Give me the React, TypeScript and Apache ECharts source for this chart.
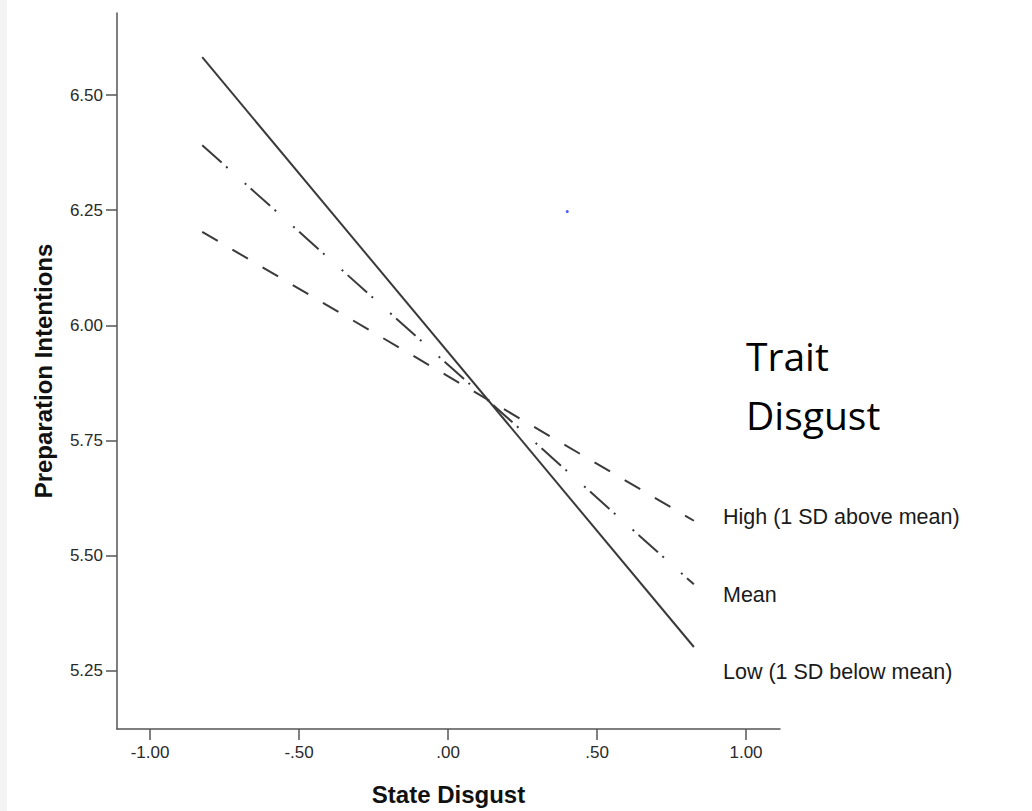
import React, { useEffect, useRef } from "react";
import * as echarts from "echarts";

// ---- data ----
const xEnds = [-0.825, 0.825];
const lowValues = [6.582, 5.302];
const meanValues = [6.391, 5.438];
const highValues = [6.203, 5.576];
const xTicks = [-1, -0.5, 0, 0.5, 1];
const yTicks = [5.25, 5.5, 5.75, 6.0, 6.25, 6.5];
const strayPoint = [[0.4, 6.247]];
const legendLabels = ["High (1 SD above mean)", "Mean", "Low (1 SD below mean)"];
const legendTitle = ["Trait", "Disgust"];
const xName = "State Disgust";
const yName = "Preparation Intentions";

const fmt = (v: number) => v.toFixed(2).replace(/^(-?)0\./, "$1.");

export default function App() {
  const ref = useRef<HTMLDivElement>(null);
  useEffect(() => {
    if (!ref.current) return;
    const chart = echarts.init(ref.current, null, { renderer: "svg" });
    const axisColor = "#555555";
    const lineColor = "#3a3a3a";
    const pairs = (ys: number[]) => xEnds.map((x, i) => [x, ys[i]]);
    chart.setOption({
      animation: false,
      backgroundColor: "#ffffff",
      grid: { left: 117, top: 13, width: 663, height: 720, containLabel: false },
      xAxis: {
        type: "value",
        min: -1.111,
        max: 1.114,
        name: xName,
        nameLocation: "middle",
        nameGap: 53,
        nameTextStyle: { fontFamily: "Liberation Sans", fontWeight: "bold", fontSize: 24, color: "#111" },
        axisLine: { show: true, onZero: false, lineStyle: { color: axisColor, width: 1.5 } },
        axisTick: { show: true, inside: false, length: 11, customValues: xTicks, lineStyle: { color: axisColor, width: 1.5 } },
        axisLabel: { customValues: xTicks, formatter: fmt, margin: 15, fontFamily: "Liberation Sans", fontSize: 17, color: "#2a2a2a" },
        splitLine: { show: false },
      },
      yAxis: {
        type: "value",
        min: 5.124,
        max: 6.678,
        name: yName,
        nameLocation: "middle",
        nameGap: 62,
        nameRotate: 90,
        nameTextStyle: { fontFamily: "Liberation Sans", fontWeight: "bold", fontSize: 24, color: "#111" },
        axisLine: { show: true, onZero: false, lineStyle: { color: axisColor, width: 1.5 } },
        axisTick: { show: true, inside: false, length: 11, customValues: yTicks, lineStyle: { color: axisColor, width: 1.5 } },
        axisLabel: { customValues: yTicks, formatter: fmt, margin: 14, fontFamily: "Liberation Sans", fontSize: 17, color: "#2a2a2a" },
        splitLine: { show: false },
      },
      series: [
        {
          name: legendLabels[2],
          type: "line",
          data: pairs(lowValues),
          symbol: "none",
          lineStyle: { color: lineColor, width: 2 },
        },
        {
          name: legendLabels[1],
          type: "line",
          data: pairs(meanValues),
          symbol: "none",
          lineStyle: { color: lineColor, width: 2, type: [26, 6, 2, 23, 2, 6] },
        },
        {
          name: legendLabels[0],
          type: "line",
          data: pairs(highValues),
          symbol: "none",
          lineStyle: { color: lineColor, width: 2, type: [18, 17] },
        },
        {
          type: "scatter",
          data: strayPoint,
          symbolSize: 3,
          itemStyle: { color: "#2233ff" },
        },
      ],
      graphic: [
        { type: "rect", left: 0, top: 0, shape: { width: 7, height: 811 }, style: { fill: "#f3f3f3" }, silent: true },
        {
          type: "text",
          left: 746,
          top: 336,
          style: { text: legendTitle[0], font: "39px 'Open Sans'", fill: "#000" },
        },
        {
          type: "text",
          left: 746,
          top: 395,
          style: { text: legendTitle[1], font: "39px 'Open Sans'", fill: "#000" },
        },
        ...legendLabels.map((t, i) => ({
          type: "text",
          left: 723,
          top: [517, 595, 672][i] - 11,
          style: { text: t, font: "21.5px 'Liberation Sans'", fill: "#1a1a1a" },
        })),
      ],
    });
    return () => chart.dispose();
  }, []);
  return <div ref={ref} style={{ position: "fixed", left: 0, top: 0, width: 1032, height: 811 }} />;
}
